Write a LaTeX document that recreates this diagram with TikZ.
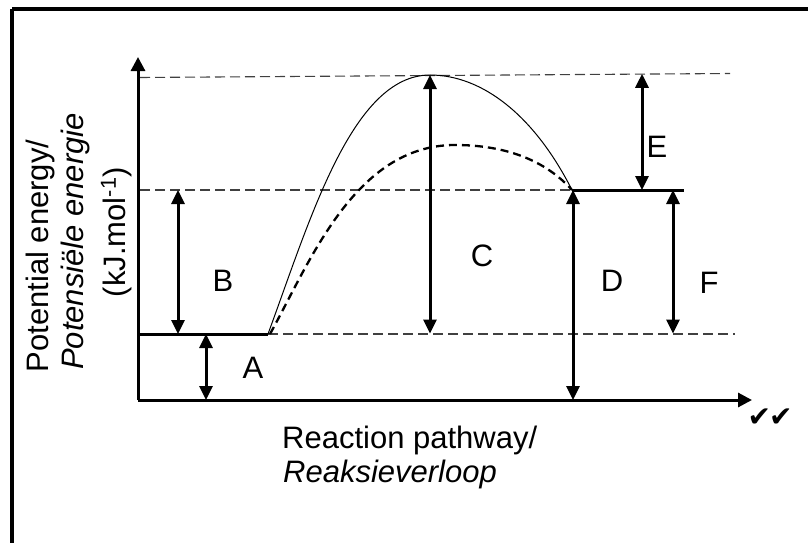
\documentclass[tikz,border=0pt]{standalone}
\usepackage{fontspec}
\setmainfont{Liberation Sans}
\newfontfamily\symfont{DejaVu Sans}
\usetikzlibrary{arrows.meta}
\begin{document}
\begin{tikzpicture}[x=1pt,y=-1pt,
  thickline/.style={line width=3pt},
  guide/.style={line width=1.1pt, draw=black!75, dash pattern=on 10pt off 5pt},
  dbl/.style={line width=3pt, {Triangle[length=14pt,width=13pt]}-{Triangle[length=14pt,width=13pt]}},
  axisarrow/.style={line width=3pt, -{Triangle[length=14pt,width=14pt]}},
  lbl/.style={font=\fontsize{31}{36}\selectfont, inner sep=0pt},
  axlbl/.style={font=\fontsize{31}{36}\selectfont, inner sep=0pt}
]
\useasboundingbox (0,0) rectangle (808,543);
\clip (0,0) rectangle (808,543);
\fill[white] (0,0) rectangle (808,543);
% frame
\draw[line width=4pt] (12,9) -- (830,9);
\draw[line width=4pt] (12,9) -- (12,570);

% key coordinates
\coordinate (O) at (138,400);
\coordinate (ytop) at (138,57);
\coordinate (xend) at (752,400);
\coordinate (R0) at (138,334);
\coordinate (R1) at (268,334);
\coordinate (P0) at (572,190);
\coordinate (P1) at (684,190);
\coordinate (peak) at (430,75);
\coordinate (dpeak) at (455,145);

% guide lines
\coordinate (g1a) at (140,77.5);
\coordinate (g1b) at (730,73.5);
\coordinate (g2a) at (140,190);
\coordinate (g3b) at (735,334);
\draw[guide] (g1a) -- (g1b);
\draw[guide] (g2a) -- (P0);
\draw[guide] (R1) -- (g3b);

% axes
\draw[axisarrow] (O) -- (ytop);
\draw[axisarrow] (O) -- (xend);

% levels
\draw[thickline] (R0) -- (R1);
\draw[thickline] (P0) -- (P1);

% curves
\draw[line width=1pt] (R1) .. controls (310,220) and (352,75) .. (peak)
  .. controls (482,75) and (534,115) .. (P0);
\draw[line width=2.3pt, dash pattern=on 8pt off 5pt] (270,334) .. controls (310,262) and (355,145) .. (dpeak)
  .. controls (505,145) and (545,160) .. (P0);

% double arrows
\coordinate (Aa) at (206,334); \coordinate (Ab) at (206,400);
\coordinate (Ba) at (178,190); \coordinate (Bb) at (178,334);
\coordinate (Ca) at (430,75);  \coordinate (Cb) at (430,333.5);
\coordinate (Da) at (573,190); \coordinate (Db) at (573,400);
\coordinate (Ea) at (642,73.8); \coordinate (Eb) at (642,190);
\coordinate (Fa) at (673,190); \coordinate (Fb) at (673,333.5);
\draw[dbl] (Aa) -- (Ab);
\draw[dbl] (Ba) -- (Bb);
\draw[dbl] (Ca) -- (Cb);
\draw[dbl] (Da) -- (Db);
\draw[dbl] (Ea) -- (Eb);
\draw[dbl] (Fa) -- (Fb);

% labels
\node[lbl] (lA) at (253,368) {A};
\node[lbl] (lB) at (223,281) {B};
\node[lbl] (lC) at (482,256) {C};
\node[lbl] (lD) at (612,281) {D};
\node[lbl] (lE) at (657,147) {E};
\node[lbl] (lF) at (709,283) {F};

% axis labels
\node[axlbl, rotate=90, anchor=base] (y1) at (48,256) {Potential energy/};
\node[axlbl, rotate=90, anchor=base] (y2) at (83,241.5) {\itshape Potensiële energie};
\node[axlbl, rotate=90, anchor=base] (y3) at (125,232) {(kJ.mol\textsuperscript{-1})};
\node[axlbl, anchor=base west] (x1) at (282,448) {Reaction pathway/};
\node[axlbl, anchor=base west] (x2) at (283,482) {\itshape Reaksieverloop};

% ticks
\node[font=\symfont\fontsize{28}{30}\selectfont, inner sep=0pt] (chk) at (770,418) {✔\kern-2pt✔};
\end{tikzpicture}
\end{document}
